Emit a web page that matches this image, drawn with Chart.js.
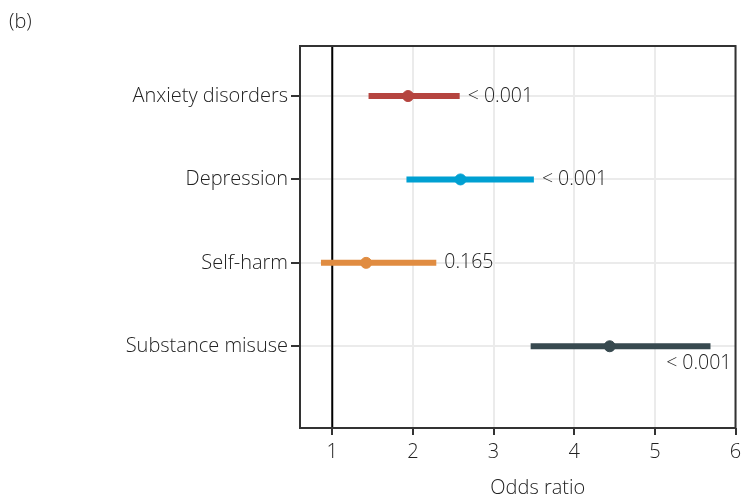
<!DOCTYPE html>
<html lang="en">
<head>
  <meta charset="UTF-8">
  <title>Odds ratios (b)</title>
  <script src="https://cdn.jsdelivr.net/npm/chart.js"></script>
  <style>
    body { margin: 0; background: #fff; }
    .wrap { position: relative; width: 742px; height: 501px; }
  </style>
</head>
<body>
  <div class="wrap"><canvas id="chart"></canvas></div>
  <script>
    // data
    const outcomes = ['Anxiety disorders', 'Depression', 'Self-harm', 'Substance misuse'];
    const oddsRatio = [1.94, 2.59, 1.42, 4.44];
    const ciLower = [1.45, 1.92, 0.86, 3.46];
    const ciUpper = [2.58, 3.50, 2.29, 5.69];
    const pValues = ['< 0.001', '< 0.001', '0.165', '< 0.001'];
    const colours = ['#b5443f', '#00a0d2', '#e08c41', '#37494f'];
    const xTicks = [1, 2, 3, 4, 5, 6];

    const FONT = "'Open Sans', sans-serif";
    const TEXT = '#222222';

    const datasets = [];
    // reference line at OR = 1
    datasets.push({
      type: 'line', data: [{x: 1, y: 0.4}, {x: 1, y: 5}],
      borderColor: '#000', borderWidth: 2, pointRadius: 0, order: 3
    });
    outcomes.forEach((name, i) => {
      datasets.push({
        type: 'line', label: name,
        data: [{x: ciLower[i], y: i + 1}, {x: ciUpper[i], y: i + 1}],
        borderColor: colours[i], borderWidth: 6, borderCapStyle: 'butt',
        pointRadius: 0, order: 2
      });
      datasets.push({
        type: 'scatter',
        data: [{x: oddsRatio[i], y: i + 1}],
        backgroundColor: colours[i], borderColor: colours[i],
        pointRadius: 5.5, order: 1
      });
    });

    const extras = {
      id: 'extras',
      afterDatasetsDraw(chart) {
        const {ctx, chartArea: a, scales: {x, y}} = chart;
        ctx.save();
        // panel border
        ctx.strokeStyle = '#333';
        ctx.lineWidth = 2;
        ctx.strokeRect(a.left, a.top, a.right - a.left, a.bottom - a.top);
        // p-value labels
        ctx.font = '300 19.5px ' + FONT;
        ctx.fillStyle = TEXT;
        ctx.textBaseline = 'middle';
        pValues.forEach((p, i) => {
          const px = x.getPixelForValue(ciUpper[i]) + 8;
          const py = y.getPixelForValue(i + 1);
          const w = ctx.measureText(p).width;
          if (px + w > a.right) {
            ctx.textAlign = 'right';
            ctx.fillText(p, a.right - 4, py + 17);
          } else {
            ctx.textAlign = 'left';
            ctx.fillText(p, px, py);
          }
        });
        // axis title and panel tag
        ctx.font = '300 20px ' + FONT;
        ctx.textAlign = 'center';
        ctx.fillText('Odds ratio', (a.left + a.right) / 2 + 20, 488);
        ctx.textAlign = 'left';
        ctx.fillText('(b)', 9, 22);
        ctx.restore();
      }
    };

    new Chart(document.getElementById('chart'), {
      data: { datasets },
      options: {
        responsive: true,
        maintainAspectRatio: false,
        animation: false,
        layout: { padding: { top: 46, right: 4, left: 0, bottom: 0 } },
        plugins: { legend: { display: false }, tooltip: { enabled: false } },
        scales: {
          x: {
            type: 'linear', min: 0.6, max: 6.0,
            afterBuildTicks: s => { s.ticks = xTicks.map(v => ({value: v})); },
            afterFit: s => { s.height = 501 - 428; s.paddingRight = 0; s.paddingLeft = 0; },
            grid: { color: '#ebebeb', lineWidth: 2, tickColor: '#333', tickLength: 7, tickWidth: 2 },
            border: { display: false },
            ticks: { color: TEXT, font: { family: FONT, size: 20, weight: 300 }, padding: 5, maxRotation: 0 }
          },
          y: {
            type: 'linear', min: 0.4, max: 4.98, reverse: true,
            afterBuildTicks: s => { s.ticks = outcomes.map((_, i) => ({value: i + 1})); },
            afterFit: s => { s.width = 300; s.paddingTop = 0; s.paddingBottom = 0; },
            grid: { color: '#ebebeb', lineWidth: 2, tickColor: '#333', tickLength: 9, tickWidth: 2 },
            border: { display: false },
            ticks: {
              color: TEXT, font: { family: FONT, size: 20, weight: 300 }, padding: 3,
              callback: v => outcomes[v - 1]
            }
          }
        }
      },
      plugins: [extras]
    });
  </script>
</body>
</html>
